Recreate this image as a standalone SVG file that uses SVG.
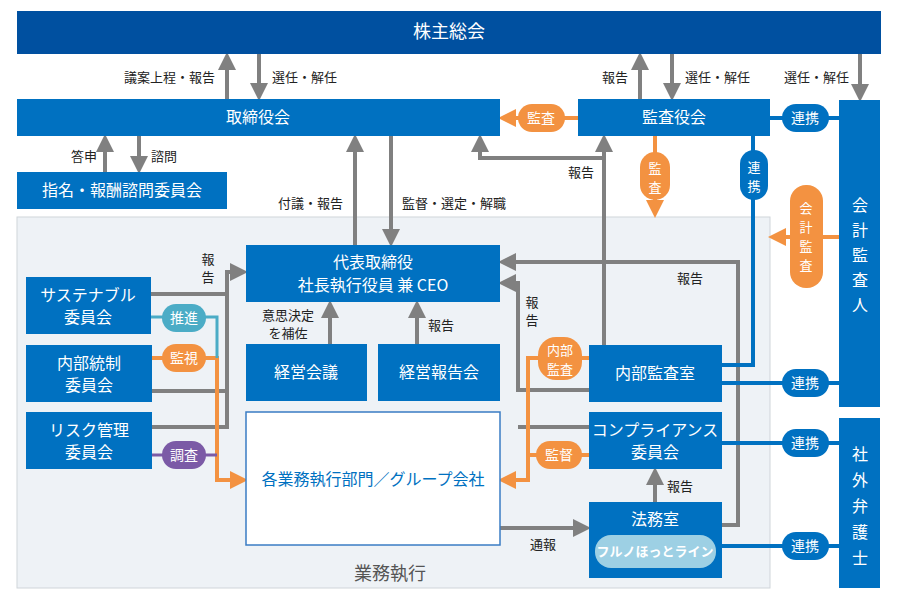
<svg xmlns="http://www.w3.org/2000/svg" width="900" height="605" viewBox="0 0 900 605">
<style>
text{font-family:"Noto Sans CJK JP","Noto Sans",sans-serif}
.n{fill:#0071c1}
.t{fill:#fff;font-size:16px;text-anchor:middle}
.l{fill:#222;font-size:13px}
.g{stroke:#808080;stroke-width:4;fill:none}
.o{stroke:#f39241;stroke-width:4;fill:none}
.b{stroke:#0071c1;stroke-width:4;fill:none}
.op{fill:#f39241}.bp{fill:#0071c1}
.pt{fill:#fff;font-size:14px;text-anchor:middle}
.ps{fill:#fff;font-size:13px;text-anchor:middle}
</style>
<defs>
<marker id="ag" viewBox="0 0 10 10" refX="5" refY="5" markerWidth="4.5" markerHeight="4.5" orient="auto"><path d="M0,0L10,5L0,10z" fill="#808080"/></marker>
<marker id="ao" viewBox="0 0 10 10" refX="5" refY="5" markerWidth="4.5" markerHeight="4.5" orient="auto"><path d="M0,0L10,5L0,10z" fill="#f39241"/></marker>
</defs>
<rect x="17" y="217" width="753" height="371" fill="#eef2f6" stroke="#d0d5da"/>
<text x="390" y="580" font-size="18" fill="#555" text-anchor="middle">業務執行</text>
<g id="connectors">
<path class="g" d="M227,99V61" marker-end="url(#ag)"/>
<path class="g" d="M259,54V92" marker-end="url(#ag)"/>
<path class="g" d="M640,99V61" marker-end="url(#ag)"/>
<path class="g" d="M672,54V92" marker-end="url(#ag)"/>
<path class="g" d="M860,54V93" marker-end="url(#ag)"/>
<path class="g" d="M105,172V143" marker-end="url(#ag)"/>
<path class="g" d="M139,136V165" marker-end="url(#ag)"/>
<path class="g" d="M355,245V143" marker-end="url(#ag)"/>
<path class="g" d="M391,136V238" marker-end="url(#ag)"/>
<path class="g" d="M604,345V143" marker-end="url(#ag)"/>
<path class="g" d="M604,158H480V143" marker-end="url(#ag)"/>
<path class="g" d="M722,525H738V262H507" marker-end="url(#ag)"/>
<path class="g" d="M589,390H518V283H507" marker-end="url(#ag)"/>
<path class="g" d="M589,427H518"/>
<path class="g" d="M655,502V476" marker-end="url(#ag)"/>
<path class="g" d="M500,528H582" marker-end="url(#ag)"/>
<path class="g" d="M151,294H227"/>
<path class="g" d="M152,391H227"/>
<path class="g" d="M152,427H227V272H239" marker-end="url(#ag)"/>
<path class="g" d="M330,344V309" marker-end="url(#ag)"/>
<path class="g" d="M417,344V309" marker-end="url(#ag)"/>
<path class="o" d="M578,118H507" marker-end="url(#ao)"/>
<path class="o" d="M655,136V209" marker-end="url(#ao)"/>
<path class="o" d="M839,237H777" marker-end="url(#ao)"/>
<path class="o" d="M589,358H528V480H507" marker-end="url(#ao)"/>
<path class="o" d="M589,455H528"/>
<path class="o" d="M152,358H217V480H239" marker-end="url(#ao)"/>
<path d="M151,317H217V358" stroke="#4bacc6" stroke-width="3" fill="none"/>
<path d="M152,455H217" stroke="#7b5aa6" stroke-width="3" fill="none"/>
<path class="b" d="M770,118H839"/>
<path class="b" d="M753,136V365H722"/>
<path class="b" d="M722,383H839"/>
<path class="b" d="M722,443H839"/>
<path class="b" d="M722,546H839"/>
</g>
<g id="labels">
<text class="l" x="215" y="82" text-anchor="end">議案上程・報告</text>
<text class="l" x="272" y="82">選任・解任</text>
<text class="l" x="628" y="82" text-anchor="end">報告</text>
<text class="l" x="685" y="82">選任・解任</text>
<text class="l" x="849" y="82" text-anchor="end">選任・解任</text>
<text class="l" x="97" y="161" text-anchor="end">答申</text>
<text class="l" x="151" y="161">諮問</text>
<text class="l" x="343" y="208" text-anchor="end">付議・報告</text>
<text class="l" x="402" y="208">監督・選定・解職</text>
<text class="l" x="594" y="177" text-anchor="end">報告</text>
<text class="l" x="208" y="264" text-anchor="middle">報</text>
<text class="l" x="208" y="282" text-anchor="middle">告</text>
<text class="l" x="288" y="320" text-anchor="middle">意思決定</text>
<text class="l" x="288" y="338" text-anchor="middle">を補佐</text>
<text class="l" x="428" y="330">報告</text>
<text class="l" x="532" y="307" text-anchor="middle">報</text>
<text class="l" x="532" y="325" text-anchor="middle">告</text>
<text class="l" x="690" y="283" text-anchor="middle">報告</text>
<text class="l" x="667" y="491">報告</text>
<text class="l" x="543" y="549" text-anchor="middle">通報</text>
</g>
<g id="pills">
<rect x="518" y="104" width="47" height="28" rx="14" class="op"/><text class="pt" x="541" y="123">監査</text>
<rect x="640" y="152" width="30" height="48" rx="15" class="op"/><text class="ps" x="655" y="173">監</text><text class="ps" x="655" y="192">査</text>
<rect x="782" y="104" width="47" height="28" rx="14" class="bp"/><text class="pt" x="805" y="123">連携</text>
<rect x="740" y="150" width="28" height="50" rx="14" class="bp"/><text class="ps" x="754" y="172">連</text><text class="ps" x="754" y="191">携</text>
<rect x="790" y="185" width="33" height="103" rx="16" class="op"/><text class="ps" x="806" y="213">会</text><text class="ps" x="806" y="232">計</text><text class="ps" x="806" y="251">監</text><text class="ps" x="806" y="270">査</text>
<rect x="538" y="337" width="44" height="43" rx="18" class="op"/><text class="ps" x="560" y="355">内部</text><text class="ps" x="560" y="374">監査</text>
<rect x="536" y="441" width="46" height="28" rx="14" class="op"/><text class="pt" x="559" y="460">監督</text>
<rect x="162" y="304" width="44" height="28" rx="14" fill="#4bacc6"/><text class="pt" x="184" y="323">推進</text>
<rect x="162" y="344" width="44" height="28" rx="14" class="op"/><text class="pt" x="184" y="363">監視</text>
<rect x="162" y="441" width="44" height="28" rx="14" fill="#7b5aa6"/><text class="pt" x="184" y="460">調査</text>
<rect x="782" y="369" width="47" height="28" rx="14" class="bp"/><text class="pt" x="805" y="388">連携</text>
<rect x="782" y="429" width="47" height="28" rx="14" class="bp"/><text class="pt" x="805" y="448">連携</text>
<rect x="782" y="532" width="47" height="28" rx="14" class="bp"/><text class="pt" x="805" y="551">連携</text>
</g>
<g id="shareholders"><rect x="17" y="11" width="864" height="43" fill="#0050a0"/><text class="t" x="449" y="38" style="font-size:18px">株主総会</text></g>
<g id="board"><rect class="n" x="17" y="99" width="483" height="37"/><text class="t" x="258" y="123">取締役会</text></g>
<g id="auditboard"><rect class="n" x="578" y="99" width="192" height="37"/><text class="t" x="674" y="123">監査役会</text></g>
<g id="nomination"><rect class="n" x="17" y="172" width="210" height="37"/><text class="t" x="122" y="196">指名・報酬諮問委員会</text></g>
<g id="auditor"><rect class="n" x="839" y="100" width="41" height="307"/>
<text class="t" x="860" y="211">会</text><text class="t" x="860" y="236">計</text><text class="t" x="860" y="261">監</text><text class="t" x="860" y="286">査</text><text class="t" x="860" y="311">人</text></g>
<g id="lawyer"><rect class="n" x="839" y="418" width="41" height="170"/>
<text class="t" x="860" y="460">社</text><text class="t" x="860" y="486">外</text><text class="t" x="860" y="512">弁</text><text class="t" x="860" y="538">護</text><text class="t" x="860" y="564">士</text></g>
<g id="ceo"><rect class="n" x="246" y="245" width="254" height="57"/><text class="t" x="373" y="268">代表取締役</text><text class="t" x="373" y="291">社長執行役員 兼 CEO</text></g>
<g id="sustain"><rect class="n" x="26" y="277" width="125" height="57"/><text class="t" x="88" y="301">サステナブル</text><text class="t" x="88" y="323">委員会</text></g>
<g id="internalcontrol"><rect class="n" x="26" y="345" width="126" height="57"/><text class="t" x="89" y="369">内部統制</text><text class="t" x="89" y="391">委員会</text></g>
<g id="risk"><rect class="n" x="26" y="412" width="126" height="57"/><text class="t" x="89" y="436">リスク管理</text><text class="t" x="89" y="458">委員会</text></g>
<g id="mgmt"><rect class="n" x="246" y="344" width="121" height="57"/><text class="t" x="306" y="378">経営会議</text></g>
<g id="mgmtreport"><rect class="n" x="378" y="344" width="122" height="57"/><text class="t" x="439" y="378">経営報告会</text></g>
<g id="business"><rect x="246" y="412" width="254" height="133" fill="#fff" stroke="#3a7cc4" stroke-width="1.5"/><text x="373" y="485" font-size="16" fill="#0071c1" text-anchor="middle">各業務執行部門／グループ会社</text></g>
<g id="internalaudit"><rect class="n" x="589" y="345" width="133" height="57"/><text class="t" x="655" y="379">内部監査室</text></g>
<g id="compliance"><rect class="n" x="589" y="412" width="133" height="57"/><text class="t" x="655" y="436">コンプライアンス</text><text class="t" x="655" y="458">委員会</text></g>
<g id="legal"><rect class="n" x="589" y="502" width="133" height="76"/><text class="t" x="655" y="525">法務室</text>
<rect x="595" y="535" width="121" height="33" rx="16" fill="#9dd0e4"/><text x="655" y="556" font-size="13" font-weight="bold" fill="#fff" text-anchor="middle">フルノほっとライン</text></g>
</svg>
